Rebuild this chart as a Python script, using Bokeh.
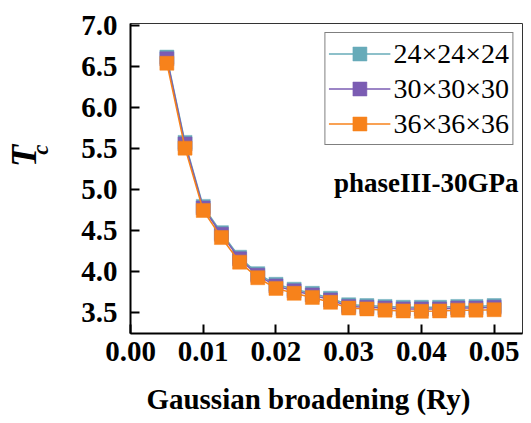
import numpy as np
from bokeh.plotting import figure
from bokeh.models import Label, FixedTicker, CustomJSTickFormatter, Range1d, LinearAxis
from bokeh.embed import file_html
from bokeh.resources import INLINE

# ---- data ----
broadening = [0.005, 0.0075, 0.01, 0.0125, 0.015, 0.0175, 0.02, 0.0225, 0.025, 0.0275,
              0.03, 0.0325, 0.035, 0.0375, 0.04, 0.0425, 0.045, 0.0475, 0.05]
tc_24 = [6.62, 5.58, 4.80, 4.48, 4.18, 3.98, 3.85, 3.79, 3.74, 3.68,
         3.60, 3.59, 3.58, 3.57, 3.57, 3.57, 3.58, 3.58, 3.59]
tc_30 = [6.60, 5.56, 4.78, 4.46, 4.16, 3.96, 3.83, 3.77, 3.72, 3.66,
         3.58, 3.57, 3.56, 3.55, 3.55, 3.55, 3.56, 3.56, 3.57]
tc_36 = [6.545, 5.51, 4.75, 4.42, 4.12, 3.93, 3.80, 3.74, 3.69, 3.63,
         3.56, 3.55, 3.535, 3.525, 3.52, 3.525, 3.535, 3.535, 3.54]
series_labels = ["24×24×24", "30×30×30", "36×36×36"]
series_colors = ["#67abb9", "#7b5cb3", "#f7821b"]
x_ticks = [0.0, 0.01, 0.02, 0.03, 0.04, 0.05]
y_ticks = [3.5, 4.0, 4.5, 5.0, 5.5, 6.0, 6.5, 7.0]

SERIF = "Liberation Serif"
NB = "\u00a0"

p = figure(width=523, height=423, output_backend="svg", toolbar_location=None,
           x_range=Range1d(0.0, 0.0539), y_range=Range1d(3.25, 7.03),
           min_border_left=130, min_border_right=1, min_border_top=23, min_border_bottom=90,
           frame_width=392, frame_height=310)

for ys, lab, col in zip([tc_24, tc_30, tc_36], series_labels, series_colors):
    p.line(broadening, ys, line_color=col, line_width=1.5, legend_label=lab)
    p.scatter(broadening, ys, marker="square", size=14, fill_color=col,
              line_color=col, line_width=0.5, legend_label=lab)

p.xgrid.visible = False
p.ygrid.visible = False
p.outline_line_color = "#333333"
p.outline_line_width = 1
p.background_fill_color = "white"
p.border_fill_color = "white"

for ax in (p.xaxis[0], p.yaxis[0]):
    ax.axis_line_width = 2
    ax.axis_line_color = "black"
    ax.major_tick_in = 9
    ax.major_tick_out = 0
    ax.major_tick_line_width = 2
    ax.major_tick_line_color = "black"
    ax.minor_tick_line_color = None
    ax.major_label_text_font = SERIF
    ax.major_label_text_font_style = "bold"
    ax.major_label_text_font_size = "29px"
    ax.major_label_text_color = "black"
    ax.axis_label_text_font = SERIF
    ax.axis_label_text_color = "black"

p.xaxis[0].ticker = FixedTicker(ticks=x_ticks)
p.yaxis[0].ticker = FixedTicker(ticks=y_ticks)
p.xaxis[0].formatter = CustomJSTickFormatter(code="return tick.toFixed(2);")
p.yaxis[0].formatter = CustomJSTickFormatter(code="return tick.toFixed(1);")
p.xaxis[0].major_label_standoff = 8
p.yaxis[0].major_label_standoff = 13

# x axis title (shifted left a little with trailing no-break spaces)
p.xaxis[0].axis_label = "Gaussian broadening (Ry)" + NB * 5
p.xaxis[0].axis_label_text_font_style = "bold"
p.xaxis[0].axis_label_text_font_size = "29px"
p.xaxis[0].axis_label_standoff = 19

# y axis title: subscript "c" on the tick axis, "T" on an outer blank axis
p.yaxis[0].axis_label = NB * 10 + "c"
p.yaxis[0].axis_label_text_font_style = "bold italic"
p.yaxis[0].axis_label_text_font_size = "23px"
p.yaxis[0].axis_label_standoff = 25

t_axis = LinearAxis(axis_label=NB * 5 + "T", axis_line_color=None,
                    major_tick_line_color=None, minor_tick_line_color=None,
                    major_tick_in=0, major_tick_out=0,
                    major_label_text_font_size="0px", major_label_standoff=0,
                    axis_label_text_font=SERIF, axis_label_text_font_style="bold italic",
                    axis_label_text_font_size="36px", axis_label_text_color="black",
                    axis_label_text_line_height=0.8,
                    axis_label_standoff=-18,
                    ticker=FixedTicker(ticks=[]))
p.add_layout(t_axis, "left")

# legend
lg = p.legend[0]
lg.location = "top_right"
lg.margin = 9
lg.border_line_color = "black"
lg.border_line_width = 1.5
lg.background_fill_alpha = 1.0
lg.label_text_font = SERIF
lg.label_text_font_size = "28px"
lg.label_text_color = "black"
lg.glyph_width = 62
lg.glyph_height = 35
lg.label_height = 35
lg.label_standoff = 3
lg.spacing = 0
lg.padding = 3

# annotation text inside plot
p.add_layout(Label(x=388, y=151, x_units="screen", y_units="screen",
                   text="phaseIII-30GPa", text_font=SERIF, text_font_style="bold",
                   text_font_size="27px", text_align="right", text_baseline="alphabetic",
                   text_color="black"))

open("out.html", "w").write(file_html(p, INLINE))
